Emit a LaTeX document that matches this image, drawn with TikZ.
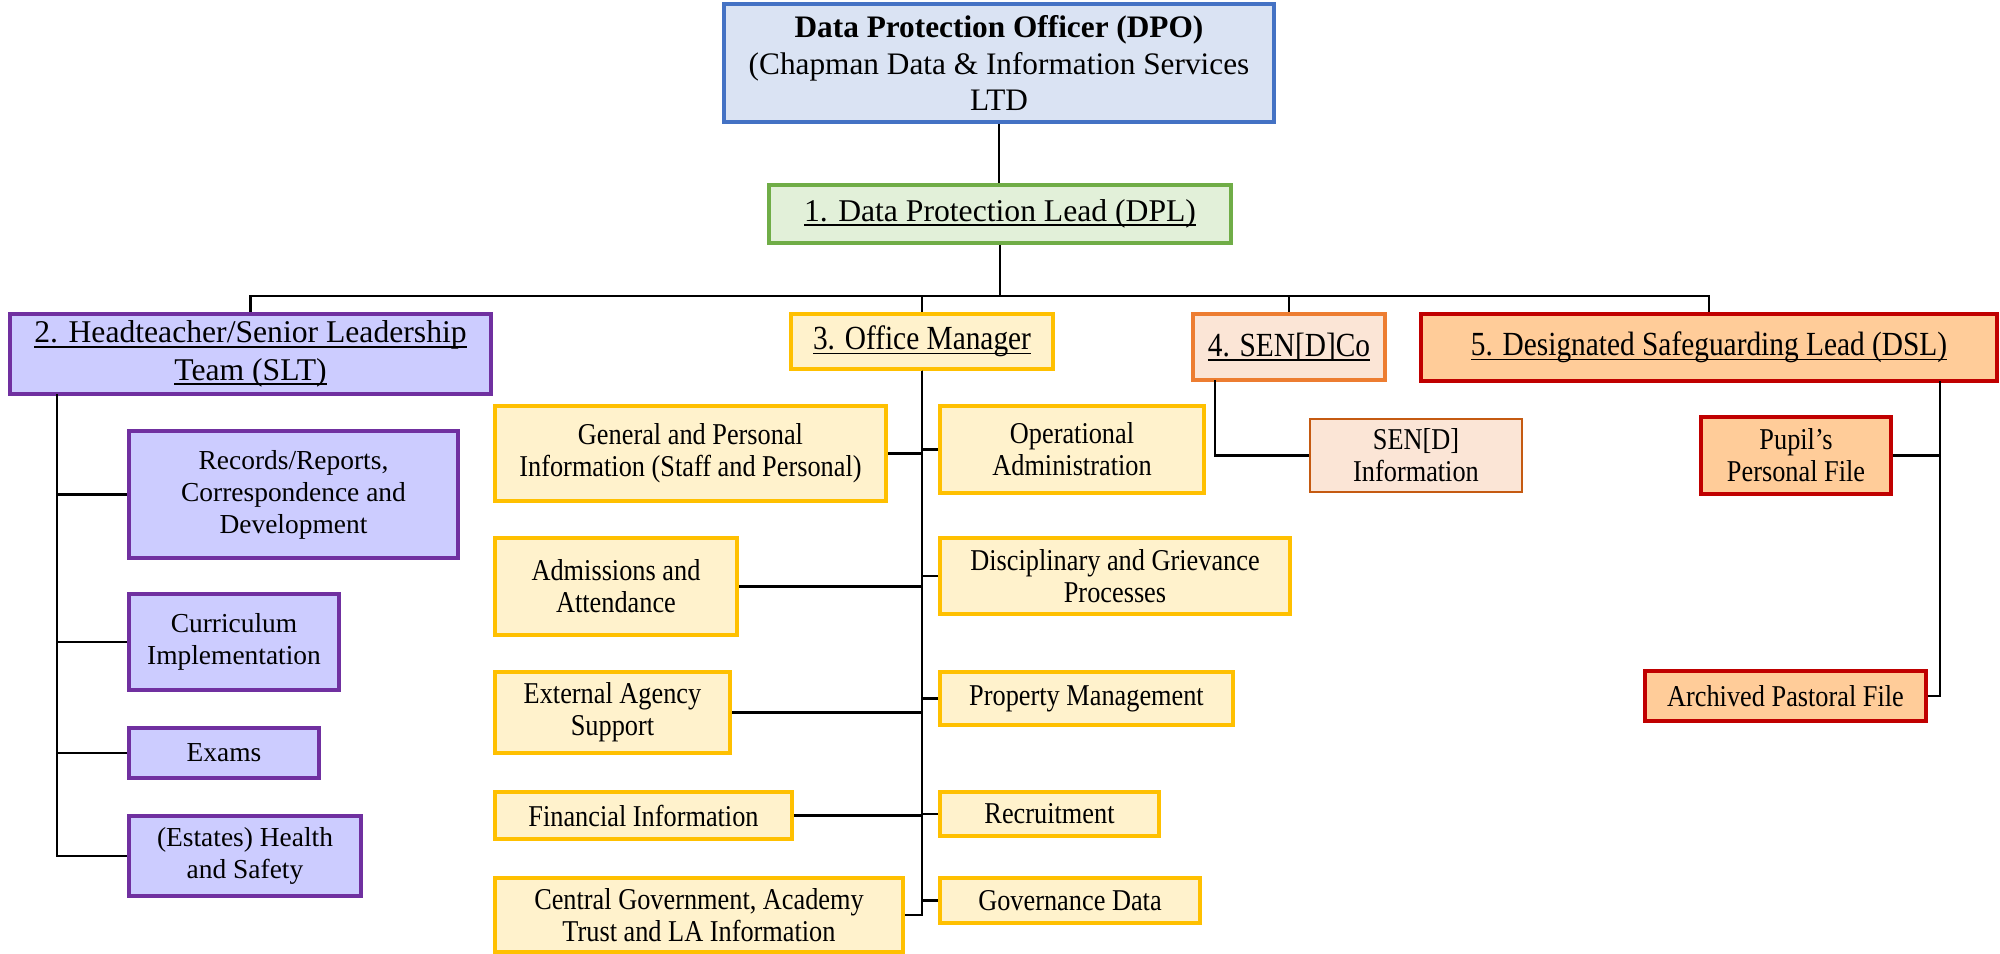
\documentclass[tikz,border=0pt]{standalone}
\usepackage{fontspec}
\setmainfont{Liberation Serif}
\newfontfamily\condfont{Liberation Serif}[FakeStretch=0.87]
\usetikzlibrary{
  positioning,  % 节点相对定位
  calc          % 坐标计算
}

% 配色（各部门一组：填充 / 边框）
\definecolor{dpoFill}{HTML}{DAE3F3} \definecolor{dpoLine}{HTML}{4472C4}
\definecolor{dplFill}{HTML}{E2F0D9} \definecolor{dplLine}{HTML}{70AD47}
\definecolor{sltFill}{HTML}{CCCCFF} \definecolor{sltLine}{HTML}{7030A0}
\definecolor{omFill}{HTML}{FFF2CC}  \definecolor{omLine}{HTML}{FFC000}
\definecolor{senFill}{HTML}{FBE5D6} \definecolor{senLine}{HTML}{ED7D31}
\definecolor{sinfoLine}{HTML}{C55A11}
\definecolor{dslFill}{HTML}{FFCC99} \definecolor{dslLine}{HTML}{C00000}

% 标题下划线（紧贴基线）
\newsavebox\ulbox
\newcommand{\ulab}[1]{\sbox\ulbox{#1}\rlap{\rule[-1.3pt]{\wd\ulbox}{0.5pt}}\usebox\ulbox}

\tikzset{
  box/.style={draw, line width=0.9pt, align=center, inner sep=1pt},
  sz/.style 2 args={minimum width=#1*0.01cm, minimum height=#2*0.01cm},
  toptxt/.style={font=\fontsize{9}{10.6}\selectfont},
  toptxtc/.style={font=\condfont\fontsize{9.6}{10.6}\selectfont},
  subtxt/.style={font=\fontsize{7.8}{9.1}\selectfont},
  subtxtc/.style={font=\condfont\fontsize{8.6}{9.1}\selectfont},
  dpobox/.style={box, fill=dpoFill, draw=dpoLine, font=\fontsize{8.9}{10.4}\selectfont},
  dplbox/.style={box, fill=dplFill, draw=dplLine, toptxt},
  sltbox/.style={box, fill=sltFill, draw=sltLine},
  ombox/.style={box, fill=omFill, draw=omLine},
  senbox/.style={box, fill=senFill, draw=senLine},
  dslbox/.style={box, fill=dslFill, draw=dslLine},
  link/.style={line width=0.65pt, black}
}

\begin{document}
\begin{tikzpicture}[x=0.01cm, y=-0.01cm]

  \useasboundingbox (0,0) rectangle (2000,953);

  % =============== 顶层：DPO 与 DPL ===============
  \node[dpobox, sz={550}{118}] (dpo) at (999,63)
    {\textbf{Data Protection Officer (DPO)}\\(Chapman Data \& Information Services\\LTD};
  \node[dplbox, sz={462}{58}] (dpl) at (1000,214)
    {\ulab{1. Data Protection Lead (DPL)}};

  % =============== 第二层：四个负责人 ===============
  \node[sltbox, toptxt, sz={481}{80}] (slt) at (250.5,354)
    {\ulab{2. Headteacher/Senior Leadership}\\\ulab{Team (SLT)}};
  \node[ombox, toptxtc, sz={262}{55}] (om) at (922,341.5)
    {\ulab{3. Office Manager}};
  \node[senbox, toptxtc, sz={192}{66}] (sen) at (1289,347)
    {\ulab{4. SEN[D]Co}};
  \node[dslbox, toptxtc, sz={576}{67}] (dsl) at (1709,347.5)
    {\ulab{5. Designated Safeguarding Lead (DSL)}};

  % =============== SLT 下属 ===============
  \node[sltbox, subtxt, sz={329}{127}] (rec) at (293.5,494.5)
    {Records/Reports,\\Correspondence and\\Development};
  \node[sltbox, subtxt, sz={210}{96}] (cur) at (234,642)
    {Curriculum\\Implementation};
  \node[sltbox, subtxt, sz={190}{50}] (exa) at (224,753) {Exams};
  \node[sltbox, subtxt, sz={232}{80}] (est) at (245,856)
    {(Estates) Health\\and Safety};

  % =============== Office Manager 下属（左列） ===============
  \node[ombox, subtxtc, sz={391}{95}] (gen) at (690.5,453.5)
    {General and Personal\\Information (Staff and Personal)};
  \node[ombox, subtxtc, sz={242}{97}] (adm) at (616,586.5)
    {Admissions and\\Attendance};
  \node[ombox, subtxtc, sz={235}{81}] (ext) at (612.5,712.5)
    {External Agency\\Support};
  \node[ombox, subtxtc, sz={297}{47}] (fin) at (643.5,815.5)
    {Financial Information};
  \node[ombox, subtxtc, sz={408}{74}] (cen) at (699,915)
    {Central Government, Academy\\Trust and LA Information};

  % =============== Office Manager 下属（右列） ===============
  \node[ombox, subtxtc, sz={264}{87}] (ops) at (1072,449.5)
    {Operational\\Administration};
  \node[ombox, subtxtc, sz={350}{76}] (dis) at (1115,576)
    {Disciplinary and Grievance\\Processes};
  \node[ombox, subtxtc, sz={293}{53}] (pro) at (1086.5,698.5)
    {Property Management};
  \node[ombox, subtxtc, sz={219}{44}] (rcr) at (1049.5,814)
    {Recruitment};
  \node[ombox, subtxtc, sz={260}{45}] (gov) at (1070,900.5)
    {Governance Data};

  % =============== SENDCo 与 DSL 下属 ===============
  \node[senbox, draw=sinfoLine, line width=0.6pt, subtxtc, sz={212}{73}] (sinfo) at (1416,455.5)
    {SEN[D]\\Information};
  \node[dslbox, subtxtc, sz={190}{77}] (pup) at (1796,455.5)
    {Pupil’s\\Personal File};
  \node[dslbox, subtxtc, sz={281}{50}] (arc) at (1785.5,696)
    {Archived Pastoral File};

  % =============== 连接线 ===============
  \draw[link] (dpo.south) -- (dpo.south |- dpl.north);
  \coordinate (bus) at (1000,296);
  \draw[link] (dpl.south) -- (bus);
  \foreach \n in {slt,om,sen,dsl}
    \draw[link] (bus) -| (\n.north);

  % SLT 竖干线在框左侧
  \coordinate (sltleg) at (57,394);
  \foreach \n in {rec,cur,exa,est}
    \draw[link] (sltleg) |- (\n.west);

  % Office Manager 中央竖干线
  \foreach \n in {gen,adm,ext,fin,cen}
    \draw[link] (om.south) |- (\n.east);
  \foreach \n in {ops,dis,pro,rcr,gov}
    \draw[link] (om.south) |- (\n.west);

  \coordinate (senleg) at (1215,380);
  \draw[link] (senleg) |- (sinfo.west);

  \coordinate (dslleg) at (1940,381);
  \draw[link] (dslleg) |- (pup.east);
  \draw[link] (dslleg) |- (arc.east);

\end{tikzpicture}
\end{document}
